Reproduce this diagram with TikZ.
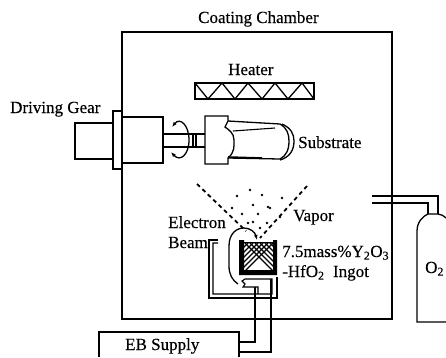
\documentclass[tikz,border=0pt]{standalone}
\usepackage{fontspec}
\setmainfont{Liberation Serif}[FakeBold=0.35]
\usetikzlibrary{arrows.meta}

\begin{document}
\begin{tikzpicture}[x=1pt,y=-1pt,
    part/.style={line width=1.3pt},
    wall/.style={line width=1.9pt},
    wire/.style={line width=1.1pt},
    lab/.style={anchor=base west,inner sep=0pt,font=\fontsize{17}{19}\selectfont},
    vapordash/.style={line width=1.8pt,dash pattern=on 4pt off 3.5pt}]
    \useasboundingbox (0,0) rectangle (446,357);
    % Chamber
    \draw[wall] (122,32) rectangle (392,319);
    \node[lab] (chamberlab) at (198,23) {Coating Chamber};
    % Heater
    \node[lab] (heaterlab) at (228,75) {Heater};
    \draw[part] (195,83) rectangle (314,99);
    \draw[part] (195,83) -- (208,99) -- (222,83) -- (235,99) -- (248,83) -- (262,99)
      -- (275,83) -- (288,99) -- (302,83) -- (314,99);
    % Driving gear
    \node[lab] (gearlab) at (10,113) {Driving Gear};
    \draw[part] (113,123) -- (75,123) -- (75,159) -- (113,159);
    \draw[part] (122,111) -- (113,111) -- (113,169) -- (122,169);
    \draw[part] (122,117) -- (163,117) -- (163,163) -- (122,163);
    \draw[part] (163,134) -- (205,134);
    \draw[part] (163,147) -- (205,147);
    \foreach \x in {193,196}
      \draw[wire] (\x,134) -- (\x,147);
    % Rotation arrow
    \draw[part,{Latex[length=5pt]}-{Latex[length=5pt]}] (172,127) .. controls (180,117) and (189,125) .. (189,140)
      .. controls (189,155) and (180,162) .. (171,152);
    % Substrate holder
    \draw[part] (228,121) -- (228,116) -- (205,116) -- (205,164) -- (228,164) -- (228,158)
      .. controls (235,152) and (234,146) .. (234,140)
      .. controls (234,133) and (229,130) .. (225,127) -- (228,121);
    % Substrate
    \draw[part] (228,121) -- (280,124) .. controls (287,128) and (289,134) .. (289,141)
      .. controls (289,150) and (286,156) .. (280,159) -- (228,158);
    \draw[part] (282,124) .. controls (291,128) and (294,134) .. (294,141)
      .. controls (294,150) and (290,157) .. (280,160);
    \draw[wire] (233,131) -- (275,128);
    \draw[line width=1.6pt] (228,157) -- (262,158);
    \node[lab] (substratelab) at (298,148) {Substrate};
    % Vapor
    \draw[vapordash] (197,184) -- (246,231);
    \draw[vapordash] (307,186) -- (260,238);
    \foreach \x/\y in {232/208,253/205,242/214,258/214,268/207,248/223,267/223,260/228,
        262/195,282/198,270/208,280/217,253/222,237/196,250/190}
      \fill (\x,\y) circle (1.3pt);
    \node[lab] (vaporlab) at (293,221) {Vapor};
    % Ingot in crucible
    \begin{scope}
      \clip (244,242) rectangle (273,270);
      \foreach \d in {0,5,...,70} {
        \draw[line width=1.3pt] (234+\d,232) -- (294+\d,292);
        \draw[line width=1.3pt] (284-\d,232) -- (224-\d,292);
      }
    \end{scope}
    \draw[line width=0.8pt] (244,242) -- (273,242);
    \fill (239,240) -- (244,240) -- (244,270) -- (273,270) -- (273,240) -- (277,240)
      -- (277,275) -- (239,275) -- cycle;
    \node[lab] (ingotlab) at (282,257) {7.5mass\%Y\textsubscript{2}O\textsubscript{3}};
    \node[lab] (hfolab) at (282,277) {-HfO\textsubscript{2}\ \ Ingot};
    % Electron beam
    \node[lab] (electronlab) at (168,228) {Electron};
    \node[lab] (beamlab) at (168,248) {Beam};
    \draw[part,-{Latex[length=5pt]}] (238,284) .. controls (232,280) and (229,274) .. (229,266)
      -- (229,246) .. controls (229,234) and (236,228) .. (244,228)
      .. controls (250,228) and (255,232) .. (257,240);
    % Gun frame
    \draw[line width=1.8pt] (218,240) -- (209,240) -- (209,298) -- (277,298) -- (277,277);
    \draw[wire] (218,243) -- (213,243) -- (213,294) -- (272,294) -- (272,279) -- (245,279)
      -- (242,281) -- (245,284) -- (243,287) -- (258,287) -- (258,294);
    % EB supply
    \draw[part] (239,357) -- (239,332) -- (99,332) -- (99,357);
    \node[lab] (supplylab) at (125,350) {EB Supply};
    \draw[wire] (255,287) -- (255,342) -- (239,342);
    \draw[wire] (271,279) -- (271,352) -- (239,352);
    % Oxygen cylinder
    \draw[part] (372,196) -- (438,196) -- (438,214);
    \draw[part] (372,203) -- (428,203) -- (428,214);
    \draw[part] (446,322) -- (417,322) -- (417,231) .. controls (417,222) and (423,216) .. (428,214)
      -- (438,214) .. controls (441,214) and (444,216) .. (446,218);
    \node[lab] (oxygenlab) at (425,273) {O\textsubscript{2}};
\end{tikzpicture}
\end{document}
